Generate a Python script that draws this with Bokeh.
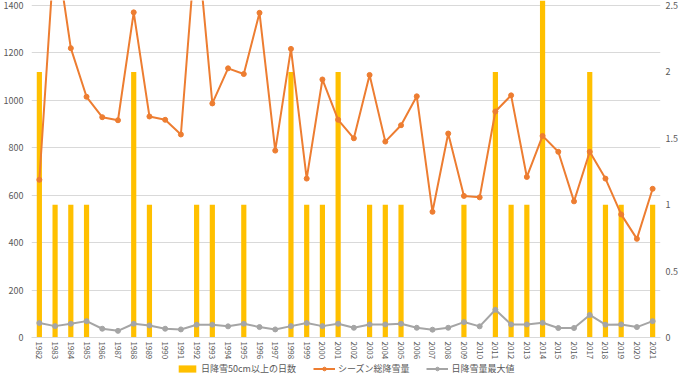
from bokeh.plotting import figure
from bokeh.layouts import column
from bokeh.models import Range1d, LinearAxis, FixedTicker, Legend, LegendItem, FactorRange
from bokeh.embed import file_html
from bokeh.resources import INLINE

years = ["1982", "1983", "1984", "1985", "1986", "1987", "1988", "1989", "1990", "1991",
         "1992", "1993", "1994", "1995", "1996", "1997", "1998", "1999", "2000", "2001",
         "2002", "2003", "2004", "2005", "2006", "2007", "2008", "2009", "2010", "2011",
         "2012", "2013", "2014", "2015", "2016", "2017", "2018", "2019", "2020", "2021"]

# days with daily snowfall >= 50cm (right axis)
days50 = [2, 1, 1, 1, 0, 0, 2, 1, 0, 0,
          1, 1, 0, 1, 0, 0, 2, 1, 1, 2,
          0, 1, 1, 1, 0, 0, 0, 1, 0, 2,
          1, 1, 3, 0, 0, 2, 1, 1, 0, 1]

# season total snowfall (cm, left axis)
season_total = [665, 1670, 1220, 1015, 929, 916, 1371, 932, 918, 856,
                1700, 987, 1135, 1111, 1369, 788, 1217, 670, 1088, 918,
                840, 1107, 826, 895, 1017, 530, 860, 597, 591, 953,
                1021, 677, 850, 783, 574, 783, 670, 519, 416, 627]

# max daily snowfall (cm, left axis)
daily_max = [61, 48, 58, 69, 37, 28, 58, 51, 37, 34,
             54, 54, 47, 58, 44, 34, 48, 61, 48, 58,
             41, 55, 55, 58, 41, 33, 41, 65, 47, 117,
             55, 55, 62, 40, 40, 95, 54, 55, 44, 69]

left_ticks = [0, 200, 400, 600, 800, 1000, 1200, 1400]
right_ticks = [0, 0.5, 1, 1.5, 2, 2.5]
right_labels = {0: "0", 0.5: "0.5", 1: "1", 1.5: "1.5", 2: "2", 2.5: "2.5"}

labels = ["日降雪50cm以上の日数", "シーズン総降雪量", "日降雪量最大値"]

LEFT_TOP = 1421
RATIO = 560.0

TXT = "#595959"
FONT = "Noto Sans CJK JP"
C_BAR, C_TOT, C_MAX = "#FFC000", "#ED7D31", "#A5A5A5"

p = figure(x_range=FactorRange(factors=years), y_range=Range1d(0, LEFT_TOP),
           frame_width=629, frame_height=337, output_backend="svg", toolbar_location=None,
           min_border_left=27, min_border_right=18, min_border_top=0, min_border_bottom=0)
p.extra_y_ranges = {"days": Range1d(0, LEFT_TOP / RATIO)}

p.vbar(x=years, top=days50, width=0.33, fill_color=C_BAR, line_color=None,
       y_range_name="days")
p.line(years, season_total, line_color=C_TOT, line_width=2)
p.scatter(years, season_total, size=5, fill_color=C_TOT, line_color=C_TOT)
p.line(years, daily_max, line_color=C_MAX, line_width=2)
p.scatter(years, daily_max, size=5, fill_color=C_MAX, line_color=C_MAX)

p.yaxis.ticker = FixedTicker(ticks=left_ticks)
raxis = LinearAxis(y_range_name="days", ticker=FixedTicker(ticks=right_ticks))
raxis.major_label_overrides = right_labels
p.add_layout(raxis, "right")

for ax in p.yaxis + [raxis]:
    ax.axis_line_color = None
    ax.major_tick_line_color = None
    ax.minor_tick_line_color = None
    ax.major_tick_out = 0
    ax.major_tick_in = 0
    ax.minor_tick_out = 0
    ax.major_label_text_color = TXT
    ax.major_label_text_font = FONT
    ax.major_label_text_font_size = "9px"
p.yaxis[0].major_label_standoff = 8
raxis.major_label_standoff = 5

xa = p.xaxis[0]
xa.axis_line_color = "#D9D9D9"
xa.major_tick_line_color = None
xa.minor_tick_line_color = None
xa.major_tick_out = 0
xa.major_tick_in = 0
xa.major_label_orientation = "vertical"
xa.major_label_text_color = TXT
xa.major_label_text_font = FONT
xa.major_label_text_font_size = "8px"
xa.major_label_standoff = 4

p.xgrid.grid_line_color = None
p.ygrid.grid_line_color = "#D9D9D9"
p.ygrid.grid_line_width = 1
p.outline_line_color = None

# legend strip (its sample glyphs hold no visible data)
lf = figure(width=674, height=13, output_backend="svg", toolbar_location=None,
            x_range=Range1d(0, 1), y_range=Range1d(0, 1),
            x_axis_type=None, y_axis_type=None, min_border=0)
lf.grid.grid_line_color = None
lf.outline_line_color = None
lb = lf.vbar(x=[-5], top=[-5], width=0.1, fill_color=C_BAR, line_color=None)
lt1 = lf.line([-5, -4], [-5, -5], line_color=C_TOT, line_width=2)
lt2 = lf.scatter([-5], [-5], size=5, fill_color=C_TOT, line_color=C_TOT)
lm1 = lf.line([-5, -4], [-5, -5], line_color=C_MAX, line_width=2)
lm2 = lf.scatter([-5], [-5], size=5, fill_color=C_MAX, line_color=C_MAX)

legend = Legend(items=[
    LegendItem(label=labels[0], renderers=[lb]),
    LegendItem(label=labels[1], renderers=[lt1, lt2]),
    LegendItem(label=labels[2], renderers=[lm1, lm2]),
], orientation="horizontal", location=(145, 0))
legend.label_text_font = FONT
legend.label_text_font_size = "9px"
legend.label_text_color = TXT
legend.border_line_color = None
legend.background_fill_alpha = 0
legend.glyph_width = 22
legend.glyph_height = 9
legend.label_height = 9
legend.label_standoff = 3
legend.spacing = 17
legend.padding = 0
legend.margin = 0
lf.add_layout(legend, "center")

layout = column(p, lf, spacing=0)
open("out.html", "w").write(file_html(layout, INLINE))
